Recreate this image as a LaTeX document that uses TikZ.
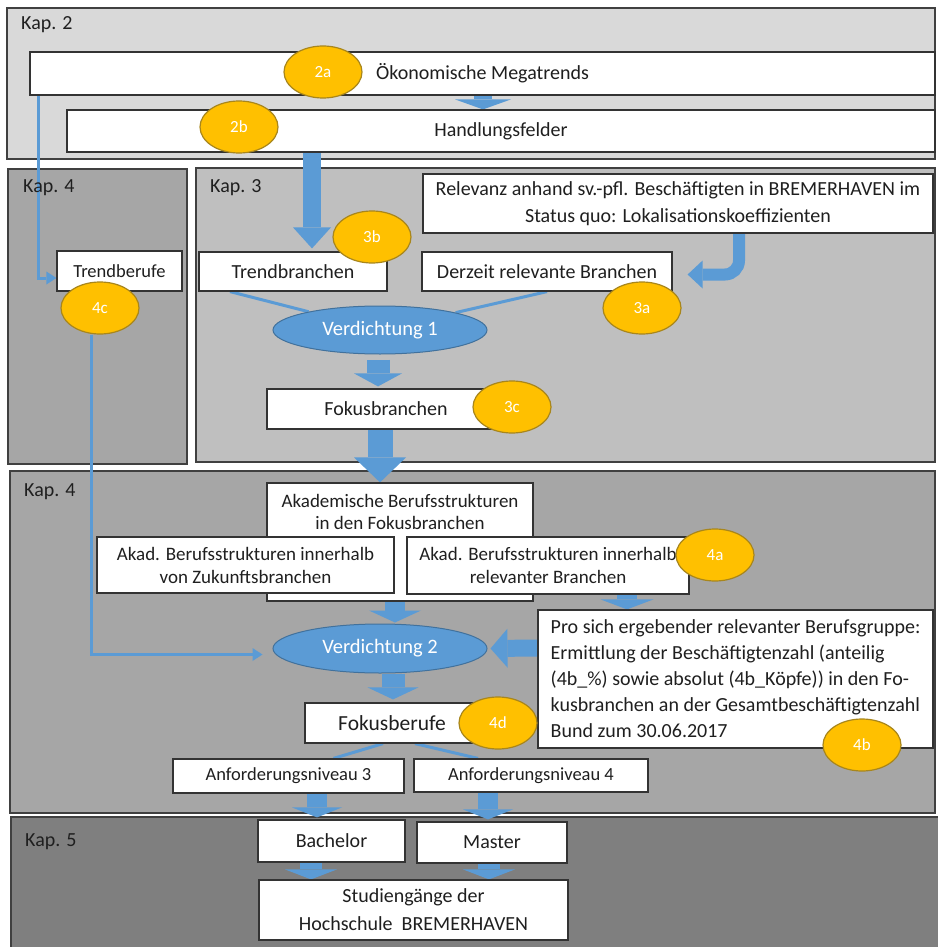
\documentclass[tikz,border=0pt]{standalone}
\usepackage{fontspec}
\setmainfont{Carlito}
\usetikzlibrary{arrows.meta,shapes.geometric,calc}
\definecolor{bluec}{HTML}{5B9BD5}
\definecolor{blueborder}{HTML}{41719C}
\definecolor{yel}{HTML}{FFC000}
\definecolor{yelborder}{HTML}{A8861C}
\definecolor{kapA}{HTML}{D9D9D9}
\definecolor{kapB}{HTML}{BFBFBF}
\definecolor{kapC}{HTML}{A6A6A6}
\definecolor{kapD}{HTML}{7F7F7F}
\definecolor{panelborder}{HTML}{404040}
\definecolor{txtc}{HTML}{1F1F1F}
\pgfdeclarelayer{bg}
\pgfdeclarelayer{back}
\pgfdeclarelayer{front}
\pgfsetlayers{bg,back,main,front}
\begin{document}
\begin{tikzpicture}[x=1pt,y=-1pt,
  font=\fontsize{20}{24}\selectfont,
  panel/.style={draw=panelborder, line width=1.5pt},
  box/.style={draw=black!80, line width=1.2pt, fill=white, inner sep=0pt, text=txtc, align=center},
  badge/.style={ellipse, draw=yelborder, line width=1.2pt, fill=yel, minimum width=78pt, minimum height=52pt, inner sep=0pt, text=white, font=\fontsize{17}{18}\selectfont},
  verd/.style={ellipse, draw=blueborder, line width=1pt, fill=bluec, minimum width=214pt, minimum height=48pt, inner sep=0pt, text=white, font=\fontsize{20.5}{22}\selectfont},
  kaplabel/.style={anchor=west, text=txtc, inner sep=0pt},
  conn/.style={draw=bluec, line width=3pt},
  connarrow/.style={conn, -{Triangle[width=13pt,length=10pt,line width=0pt]}},
  blk/.style n args={3}{draw=bluec, line width=#1, -{Triangle[width=#2,length=#3,line width=0pt]}},
]
\useasboundingbox (0,0) rectangle (937,947);
\clip (0,0) rectangle (937,947);

% panels
\begin{pgfonlayer}{bg}
\fill[white] (0,0) rectangle (937,947);
\draw[panel, fill=kapA] (7,8) rectangle (935,159);
\draw[panel, fill=kapC] (8,169) rectangle (187,464);
\draw[panel, fill=kapB] (196,168) rectangle (935,462);
\draw[panel, fill=kapC] (10,471) rectangle (935,813);
\draw[panel, fill=kapD] (11,817) rectangle (945,955);
\end{pgfonlayer}

\node[kaplabel] (k2) at (21,25) {Kap. 2};
\node[kaplabel] (k4a) at (23,188) {Kap. 4};
\node[kaplabel] (k3) at (210,188) {Kap. 3};
\node[kaplabel] (k4b) at (24,492) {Kap. 4};
\node[kaplabel] (k5) at (25,842) {Kap. 5};

% badges (front layer)
\begin{pgfonlayer}{front}
\node[badge] (b2a) at (323,72) {2a};
\node[badge] (b2b) at (239,127) {2b};
\node[badge] (b3b) at (372,237) {3b};
\node[badge] (b3a) at (642,308) {3a};
\node[badge] (b4c) at (100,308) {4c};
\node[badge] (b3c) at (512,407) {3c};
\node[badge] (b4a) at (715,555) {4a};
\node[badge] (b4b) at (862,745) {4b};
\node[badge] (b4d) at (498,723) {4d};
\end{pgfonlayer}

% boxes
\node[box, minimum width=905pt, minimum height=43pt] (meg) at (482.5,73.5) {Ökonomische Megatrends};
\node[box, minimum width=868pt, minimum height=42pt] (hand) at (501,131) {Handlungsfelder};
\node[box, minimum width=510pt, minimum height=59pt, font=\fontsize{20}{27}\selectfont] (rel) at (678,203.5) {Relevanz anhand sv.-pfl. Beschäftigten in BREMERHAVEN im\\Status quo: Lokalisationskoeffizienten};
\node[box, minimum width=125pt, minimum height=40pt, font=\fontsize{18.5}{22}\selectfont] (tberufe) at (119.5,271) {Trendberufe};
\node[box, minimum width=188pt, minimum height=39pt] (tbranchen) at (293,271.5) {Trendbranchen};
\node[box, minimum width=250pt, minimum height=39pt] (derzeit) at (547,271.5) {Derzeit relevante Branchen};
\node[verd] (v1) at (380,330) {Verdichtung 1};
\node[box, minimum width=238pt, minimum height=40pt] (fbranchen) at (386,409) {Fokusbranchen};
\node[box, minimum width=266pt, minimum height=118pt, font=\fontsize{19}{22}\selectfont] (akad) at (400,542) {\parbox[t][95pt][t]{260pt}{\centering Akademische Berufsstrukturen\\ in den Fokusbranchen}};
\node[box, minimum width=297pt, minimum height=56pt, font=\fontsize{19}{23}\selectfont] (zuk) at (245.5,565) {Akad. Berufsstrukturen innerhalb\\von Zukunftsbranchen};
\node[box, minimum width=282pt, minimum height=57pt, font=\fontsize{19}{23}\selectfont] (relb) at (548,565.5) {Akad. Berufsstrukturen innerhalb\\relevanter Branchen};
\node[box, minimum width=395pt, minimum height=138pt, font=\fontsize{20}{26}\selectfont, align=left] (pro) at (735.5,679) {Pro sich ergebender relevanter Berufsgruppe:\\Ermittlung der Beschäftigtenzahl (anteilig\\(4b\_\%) sowie absolut (4b\_Köpfe)) in den Fo-\\kusbranchen an der Gesamtbeschäftigtenzahl\\Bund zum 30.06.2017};
\node[verd, minimum height=49pt] (v2) at (380,648.5) {Verdichtung 2};
\node[box, minimum width=174pt, minimum height=40pt, font=\fontsize{21.5}{24}\selectfont] (fberufe) at (392,723) {Fokusberufe};
\node[box, minimum width=231pt, minimum height=34pt, font=\fontsize{18.5}{22}\selectfont] (anf3) at (288.5,776) {Anforderungsniveau 3};
\node[box, minimum width=234pt, minimum height=33pt, font=\fontsize{18.5}{22}\selectfont] (anf4) at (531,775.5) {Anforderungsniveau 4};
\node[box, minimum width=147pt, minimum height=42pt, font=\fontsize{20}{24}\selectfont] (bach) at (331.5,841) {Bachelor};
\node[box, minimum width=150pt, minimum height=41pt, font=\fontsize{20}{24}\selectfont] (mast) at (492,842.5) {Master};
\node[box, minimum width=309pt, minimum height=60pt, font=\fontsize{20}{28}\selectfont] (stud) at (413.5,910) {Studiengänge der\\Hochschule\ \ BREMERHAVEN};

% connectors
\begin{pgfonlayer}{back}
\draw[connarrow] ([xshift=9pt]meg.south west) |- ([yshift=-7pt]tberufe.west);
\draw[blk={18pt}{56pt}{10pt}] ([xshift=0.5pt]meg.south) -- ([xshift=-18pt]hand.north);
\draw[blk={18pt}{38pt}{21pt}] ([xshift=-189pt]hand.south) -- ([xshift=19pt,yshift=3pt]tbranchen.north);
\draw[draw=bluec, line width=12pt, rounded corners=14pt, -{Triangle[width=28pt,length=15pt,line width=0pt]}] ([xshift=61pt]rel.south) |- ([xshift=15pt,yshift=-3pt]derzeit.east);
\draw[conn] ([xshift=-63pt]tbranchen.south) -- (v1);
\draw[conn] (derzeit.south) -- (v1);
\draw[blk={23pt}{48pt}{13pt}] ([xshift=-2pt,yshift=-5pt]v1.south) -- ([xshift=-8pt,yshift=2pt]fbranchen.north);
\draw[blk={25pt}{52pt}{25pt}] ([xshift=-6pt]fbranchen.south) -- ([xshift=-20pt]akad.north);
\draw[blk={20pt}{52pt}{12pt}] ([xshift=-5pt]akad.south) -- ([xshift=15pt,yshift=1pt]v2.north);
\draw[blk={20pt}{53pt}{10pt}] ([xshift=79pt]relb.south) -- ([xshift=-108.5pt]pro.north);
\draw[blk={17pt}{39pt}{17pt}] ([yshift=31pt]pro.west) -- ([xshift=3pt]v2.east);
\draw[connarrow] ([xshift=-9pt]b4c.south) |- ([xshift=-10pt,yshift=-6pt]v2.west);
\draw[blk={23pt}{51pt}{12pt}] ([xshift=13pt]v2.south) -- ([xshift=1pt,yshift=3pt]fberufe.north);
\draw[conn] ([xshift=-9pt]fberufe.south) -- ([xshift=45pt]anf3.north);
\draw[conn] ([xshift=23pt]fberufe.south) -- ([xshift=-53pt]anf4.north);
\draw[blk={20pt}{50pt}{10pt}] ([xshift=28.5pt]anf3.south) -- ([xshift=-14.5pt,yshift=2pt]bach.north);
\draw[blk={20pt}{50pt}{10pt}] ([xshift=-43pt]anf4.south) -- ([xshift=-4pt,yshift=2pt]mast.north);
\draw[blk={22pt}{52pt}{10pt}] ([xshift=-20.5pt]bach.south) -- ([xshift=-102.5pt]stud.north);
\draw[blk={22pt}{52pt}{10pt}] ([xshift=-3pt]mast.south) -- ([xshift=75.5pt]stud.north);
\end{pgfonlayer}
\end{tikzpicture}
\end{document}
